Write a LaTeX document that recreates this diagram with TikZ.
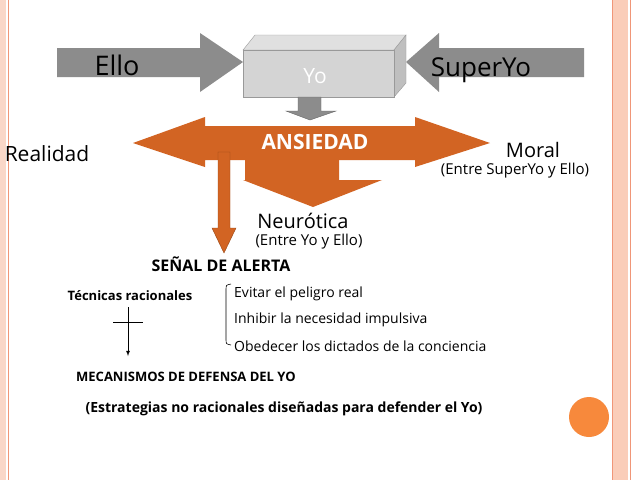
\documentclass[tikz,border=0pt]{standalone}
\usepackage{fontspec}
\setmainfont{Open Sans}
\definecolor{frpink}{RGB}{250,215,200}
\definecolor{frline}{RGB}{240,150,120}
\definecolor{frpink2}{RGB}{250,205,185}
\definecolor{ora}{RGB}{210,100,35}
\definecolor{orad}{RGB}{150,70,20}
\definecolor{circ}{RGB}{247,137,60}
\begin{document}
\begin{tikzpicture}[x=1pt,y=-1pt,
  gr/.style={fill=black!45,draw=none},
  org/.style={fill=ora,draw=none},
  t/.style={inner sep=0pt,anchor=center},
  bl/.style={t,font=\bfseries\fontsize{13}{14}\selectfont}]
\useasboundingbox (0,0) rectangle (639,480);
\fill[white] (0,0) rectangle (639,480);
% frame
\fill[frpink] (0,0) rectangle (6,480);
\draw[frline,line width=1pt] (8,0) -- (8,480);
\fill[frpink2] (613,0) rectangle (628,480);
\draw[frline,line width=1pt] (612,0) -- (612,480) (630,0) -- (630,480);
% Ello arrow
\fill[gr] (57,48) -- (200,48) -- (200,33) -- (243,62) -- (200,92) -- (200,77) -- (57,77) -- cycle;
% SuperYo arrow
\fill[gr] (584,48) -- (439,48) -- (439,33) -- (406,62) -- (439,92) -- (439,77) -- (584,77) -- cycle;
% Yo box
\fill[black!12,draw=black!40,line width=0.4pt] (243,50) -- (255,35) -- (406,35) -- (394,50) -- cycle;
\fill[black!25,draw=black!40,line width=0.4pt] (394,50) -- (406,35) -- (406,83) -- (394,97) -- cycle;
\node[fill=black!17,draw=black!40,line width=0.4pt,minimum width=151pt,minimum height=47pt,inner sep=0pt] (yo) at (318.5,73.5) {};
\node[t,text=white,font=\fontsize{21}{22}\selectfont] (yot) at (315,76) {Yo};
% small gray arrow
\fill[gr,draw=black!60,line width=0.4pt] (298,97) -- (321,97) -- (321,111) -- (336,111) -- (310,120) -- (286,111) -- (298,111) -- cycle;
% orange double arrow
\fill[org] (133,143) -- (205,117) -- (205,126) -- (415,126) -- (415,117) -- (490,143) -- (415,167) -- (415,160) -- (205,160) -- (205,167) -- cycle;
% middle down arrow
\fill[org] (245,159) -- (339,159) -- (339,180) -- (382,180) -- (313,207) -- (243,180) -- (245,180) -- cycle;
% thin orange arrow
\fill[org,draw=orad,line width=0.4pt] (218,152) -- (230,152) -- (230,228) -- (236,228) -- (224,253) -- (212,228) -- (218,228) -- cycle;
% texts
\node[t,font=\fontsize{27}{28}\selectfont] (ello) at (117,65) {Ello};
\node[t,font=\fontsize{26}{28}\selectfont] (super) at (481,70) {SuperYo};
\node[t,font=\fontsize{21}{22}\selectfont] (real) at (47,154) {Realidad};
\node[t,text=white,font=\bfseries\fontsize{21}{22}\selectfont] (ans) at (315,142) {ANSIEDAD};
\node[t,font=\fontsize{20}{22}\selectfont] (moral) at (533,150) {Moral};
\node[t,font=\fontsize{15}{16}\selectfont] (moral2) at (515,171) {(Entre SuperYo y Ello)};
\node[t,font=\fontsize{20}{22}\selectfont] (neu) at (303,221) {Neurótica};
\node[t,font=\fontsize{15}{16}\selectfont] (neu2) at (309,242) {(Entre Yo y Ello)};
\node[t,font=\bfseries\fontsize{16}{18}\selectfont] (senal) at (221,264) {SEÑAL DE ALERTA};
\node[bl] (tec) at (130,296) {Técnicas racionales};
\node[t,anchor=west,font=\fontsize{14}{16}\selectfont] (e1) at (234,294) {Evitar el peligro real};
\node[t,anchor=west,font=\fontsize{14}{16}\selectfont] (e2) at (234,320) {Inhibir la necesidad impulsiva};
\node[t,anchor=west,font=\fontsize{14}{16}\selectfont] (e3) at (234,346) {Obedecer los dictados de la conciencia};
\draw[line width=0.6pt] (231,284) .. controls (226,285) .. (226,290) -- (226,339) .. controls (226,344) .. (231,345);
\coordinate (c1) at (128,307);
\node[bl,anchor=west] (mec) at (76,377) {MECANISMOS DE DEFENSA DEL YO};
\draw[line width=0.8pt,-latex] (c1) -- (128,356);
\draw[line width=0.8pt] (113,322) -- (143,322);
\node[t,font=\bfseries\fontsize{14}{16}\selectfont] (est) at (284,409) {(Estrategias no racionales diseñadas para defender el Yo)};
\fill[circ] (589,417) circle (20);
\end{tikzpicture}
\end{document}
